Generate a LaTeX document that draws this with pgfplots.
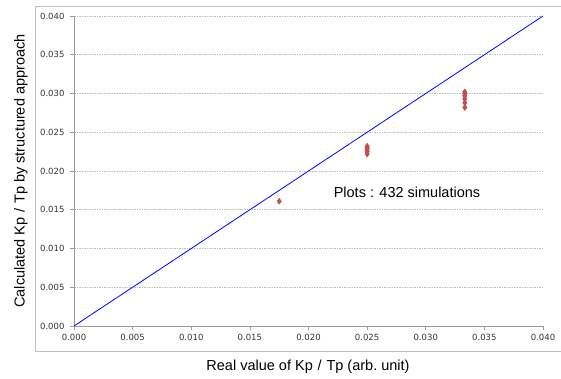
\documentclass[border=0pt]{standalone}
\usepackage{pgfplots}
\pgfplotsset{compat=1.18}
\usepackage{fontspec}
\setmainfont{Liberation Sans}
\newfontfamily\tickfont{DejaVu Sans}
\definecolor{ptred}{HTML}{C0504D}
\definecolor{gridgray}{HTML}{BFBFBF}
\definecolor{axgray}{HTML}{9A9A9A}
\begin{document}
\begin{tikzpicture}[x=1pt,y=1pt]
\useasboundingbox (-74,-53) rectangle (487,326);
\draw[gridgray, line width=0.8pt] (487,320) -- (-39,320) -- (-39,-25) -- (487,-25);
\begin{axis}[
  at={(0,0)}, anchor=south west,
  scale only axis, width=469pt, height=310pt,
  xmin=0, xmax=0.04, ymin=0, ymax=0.04,
  xtick={0,0.005,...,0.0401}, ytick={0,0.005,...,0.0401},
  axis x line*=bottom, axis y line*=left,
  axis line style={axgray, line width=0.6pt},
  every axis line/.append style={-},
  tick style={axgray, line width=0.6pt},
  major tick length=4pt,
  tick align=outside,
  ymajorgrids,
  major grid style={gridgray, dash pattern=on 1.5pt off 1pt, line width=0.6pt},
  /pgf/number format/fixed, /pgf/number format/fixed zerofill,
  /pgf/number format/precision=3,
  /pgf/number format/assume math mode=true,
  ticklabel style={font=\tickfont\fontsize{8.5}{10}\selectfont, text=black!80},
  xticklabel style={yshift=-1pt},
  yticklabel style={xshift=-2pt},
  scaled ticks=false,
  clip=false,
]
\addplot[blue, line width=0.8pt] coordinates {(0,0) (0.04,0.04)};
\addplot[only marks, mark=diamond*, mark size=3pt, mark options={fill=ptred, draw=ptred}] coordinates {
(0.0175,0.0161)
(0.025,0.0232) (0.025,0.0230) (0.025,0.0228) (0.025,0.0225) (0.025,0.0222)
(0.03333,0.0302) (0.03333,0.0300) (0.03333,0.0297) (0.03333,0.0293) (0.03333,0.0288) (0.03333,0.0282)
};
\node[font=\fontsize{14.5}{16}\selectfont] at (axis cs:0.0284,0.01729) {Plots : 432 simulations};
\end{axis}
\node[fill=white, inner sep=4pt, font=\fontsize{14.5}{16}\selectfont] at (234,-41) {Real value of Kp\,\,/\,\,Tp (arb.\ unit)};
\node[rotate=90, font=\fontsize{14.5}{16}\selectfont] at (-53,155) {Calculated Kp\,\,/\,\,Tp by structured approach};
\end{tikzpicture}
\end{document}
